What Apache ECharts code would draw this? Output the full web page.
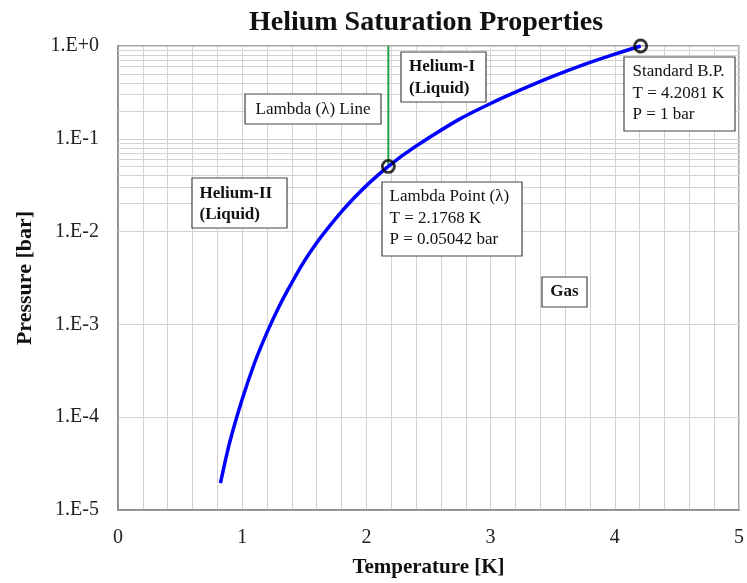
<!DOCTYPE html>
<html>
<head>
<meta charset="utf-8">
<script src="https://cdn.jsdelivr.net/npm/echarts@6/dist/echarts.min.js"></script>
<style>
html,body{margin:0;padding:0;background:#fff;}
#chart{width:747px;height:583px;}
</style>
</head>
<body>
<div id="chart"></div>
<script>
// ---- data ----
const temperatureK = [0.825, 0.9, 1.0, 1.1, 1.2, 1.3, 1.4, 1.5, 1.6, 1.7, 1.8, 1.9, 2.0, 2.1, 2.1768, 2.3, 2.5, 2.75, 3.0, 3.25, 3.5, 3.75, 4.0, 4.2081];
const pressureBar = [1.95e-5, 5.4e-5, 1.56e-4, 3.86e-4, 8.2e-4, 1.59e-3, 2.82e-3, 4.8e-3, 7.59e-3, 1.13e-2, 1.64e-2, 2.3e-2, 3.13e-2, 4.14e-2, 5.042e-2, 6.76e-2, 0.102, 0.163, 0.24, 0.34, 0.47, 0.63, 0.817, 1.0];
const lambdaT = [2.1768, 2.1768];
const lambdaLineP = [0.05042, 1.0];
const markerT = [2.1768, 4.2081];
const markerP = [0.05042, 1.0];
const xTickValues = [0, 1, 2, 3, 4, 5];
const yDecades = [-5, -4, -3, -2, -1, 0];
const yMinorMultipliers = [2, 3, 4, 5, 6, 7, 8, 9];

const minorY = [];
yDecades.slice(0, -1).forEach(function (e) {
  yMinorMultipliers.forEach(function (m) { minorY.push({ yAxis: m * Math.pow(10, e) }); });
});

const chart = echarts.init(document.getElementById('chart'), null, { renderer: 'canvas' });
const serif = '"Liberation Serif", "Times New Roman", serif';
const gridColor = '#d3d3d3';

function box(x, y, w, h, text, bold, align, tx, ty) {
  return {
    type: 'group',
    z: 100,
    children: [
      { type: 'rect', z: 100, shape: { x: x, y: y, width: w, height: h },
        style: { fill: '#fff', stroke: '#444', lineWidth: 1.2 } },
      { type: 'text', z: 101, x: tx, y: ty,
        style: { text: text, font: (bold ? 'bold ' : '') + '17px ' + serif, fill: '#111',
                 align: align, verticalAlign: 'middle', lineHeight: 21.5 } }
    ]
  };
}

chart.setOption({
  animation: false,
  backgroundColor: '#fff',
  title: {
    text: 'Helium Saturation Properties',
    left: 421, top: 4, textAlign: 'center',
    textStyle: { fontFamily: serif, fontWeight: 'bold', fontSize: 28, color: '#111' }
  },
  grid: { left: 118, right: 7, top: 46, bottom: 67, show: true, borderColor: '#888', borderWidth: 1.5, backgroundColor: 'transparent' },
  xAxis: {
    type: 'value', min: 0, max: 5, interval: 1,
    name: 'Temperature [K]', nameLocation: 'middle', nameGap: 47,
    nameTextStyle: { fontFamily: serif, fontWeight: 'bold', fontSize: 21, color: '#111' },
    axisLine: { show: true, lineStyle: { color: '#888', width: 1.5 } },
    axisTick: { show: false },
    axisLabel: { fontFamily: serif, fontSize: 20, color: '#222', margin: 18,
      formatter: function (v) { return xTickValues.indexOf(v) >= 0 ? String(v) : ''; } },
    splitLine: { show: true, lineStyle: { color: gridColor, width: 1 } },
    minorTick: { show: false, splitNumber: 5 },
    minorSplitLine: { show: true, lineStyle: { color: gridColor, width: 1 } }
  },
  yAxis: {
    type: 'log', logBase: 10, min: 1e-5, max: 1,
    name: 'Pressure [bar]', nameLocation: 'middle', nameGap: 82, nameRotate: 90,
    nameTextStyle: { fontFamily: serif, fontWeight: 'bold', fontSize: 22, color: '#111' },
    axisLine: { show: true, lineStyle: { color: '#888', width: 1.5 } },
    axisTick: { show: false },
    axisLabel: { fontFamily: serif, fontSize: 20, color: '#222', margin: 19,
      formatter: function (v) {
        const e = Math.round(Math.log10(v));
        return '1.E' + (e >= 0 ? '+' + e : String(e));
      } },
    splitLine: { show: true, lineStyle: { color: gridColor, width: 1 } }
  },
  series: [
    {
      type: 'line', name: 'minorGrid', data: [], silent: true, z: 1,
      markLine: { silent: true, symbol: 'none', animation: false, z: 1,
        label: { show: false },
        lineStyle: { color: gridColor, width: 1, type: 'solid' },
        data: minorY }
    },
    {
      type: 'line', name: 'Lambda Line',
      data: lambdaT.map(function (t, i) { return [t, lambdaLineP[i]]; }),
      showSymbol: false, lineStyle: { color: '#1e9e46', width: 2 }, z: 3
    },
    {
      type: 'line', name: 'Saturation',
      data: temperatureK.map(function (t, i) { return [t, pressureBar[i]]; }),
      showSymbol: false, smooth: 0.3, lineStyle: { color: '#0000ff', width: 3.5 }, z: 4
    },
    {
      type: 'scatter', name: 'Points',
      data: markerT.map(function (t, i) { return [t, markerP[i]]; }),
      symbol: 'circle', symbolSize: 12,
      itemStyle: { color: 'rgba(0,0,0,0)', borderColor: '#000', borderWidth: 2.8 }, z: 5
    }
  ],
  graphic: [
    box(245, 94, 136, 30, 'Lambda (λ) Line', false, 'center', 313, 109.5),
    box(401, 52, 85, 50, 'Helium-I\n(Liquid)', true, 'left', 409, 77.5),
    box(382, 182, 140, 74, 'Lambda Point (λ)\nT = 2.1768 K\nP = 0.05042 bar', false, 'left', 389.5, 218.5),
    box(624, 57, 111, 74, 'Standard B.P.\nT = 4.2081 K\nP = 1 bar', false, 'left', 632.5, 93.5),
    box(192, 178, 95, 50, 'Helium-II\n(Liquid)', true, 'left', 199.5, 204),
    box(542, 277, 45, 30, 'Gas', true, 'center', 564.5, 292)
  ]
});
</script>
</body>
</html>
